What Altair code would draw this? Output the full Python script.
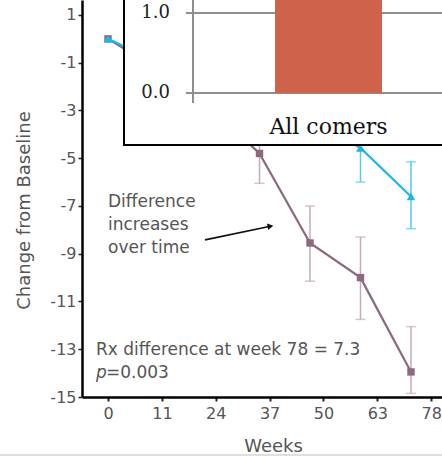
import altair as alt
import pandas as pd

FONT = "DejaVu Sans"
SERIF = "DejaVu Serif"
TEXT_GRAY = "#555555"

# Visit weeks at which both groups were measured
weeks = [0, 12, 24, 36, 48, 60, 72]

# Square-marker group: mean change and error-bar ends
group_a_mean = [0.0, -1.3, -2.8, -4.8, -8.55, -10.0, -13.95]
group_a_low = [None, -2.1, -3.8, -6.05, -10.15, -11.75, -14.85]
group_a_high = [None, -0.5, -1.8, -3.55, -7.0, -8.3, -12.05]

# Triangle-marker group: mean change and error-bar ends
group_b_mean = [0.0, -1.0, -1.8, -2.6, -3.3, -4.57, -6.6]
group_b_low = [None, -1.7, -2.7, -3.6, -4.2, -6.0, -7.95]
group_b_high = [None, -0.3, -0.9, -1.6, -2.4, -3.15, -5.15]

# Axis tick labels (evenly spaced along the week axis)
tick_labels = ["0", "11", "24", "37", "50", "63", "78"]
TICK_STEP = 12.8
y_ticks = [1, -1, -3, -5, -7, -9, -11, -13, -15]

# Inset bar chart
inset_categories = ["All comers"]
inset_values = [1.3]
inset_ticks = [0.0, 1.0]

# Annotation text
note_lines = ["Difference", "increases", "over time"]
note_values = [-6.83, -7.80, -8.76]
result_line = "Rx difference at week 78 = 7.3"

tick_pos = [i * TICK_STEP for i in range(len(tick_labels))]
label_js = "[" + ",".join("'%s'" % t for t in tick_labels) + "]"

x_scale = alt.Scale(domain=[-6.18, 79.37], nice=False, zero=False)
y_scale = alt.Scale(domain=[-15, 1.628], nice=False, zero=False)

x_axis = alt.Axis(
    values=tick_pos,
    labelExpr=label_js + "[round(datum.value / %s)]" % TICK_STEP,
    title="Weeks", grid=False,
    domainColor="black", domainWidth=2.5,
    tickColor="#222222", tickWidth=2, tickSize=4,
    labelColor=TEXT_GRAY, labelFont=FONT, labelFontSize=16, labelPadding=4,
    labelFlush=False,
    titleFont=FONT, titleFontSize=18, titleColor=TEXT_GRAY, titleFontWeight="normal",
    titleX=191, titleY=49, titleBaseline="middle", titleAlign="center",
)
y_axis = alt.Axis(
    values=y_ticks, title="Change from Baseline", grid=False,
    labelExpr="'' + datum.value",
    domainColor="black", domainWidth=2.5,
    tickColor="#222222", tickWidth=1.5, tickSize=4,
    labelColor=TEXT_GRAY, labelFont=FONT, labelFontSize=16, labelPadding=2,
    titleFont=FONT, titleFontSize=18, titleColor=TEXT_GRAY, titleFontWeight="normal",
    titleX=-58, titleY=210, titleBaseline="middle", titleAlign="center", titleAngle=270,
)


def X(field):
    return alt.X(field + ":Q", scale=x_scale, axis=x_axis)


def Y(field):
    return alt.Y(field + ":Q", scale=y_scale, axis=y_axis)


def series_layers(mean, low, high, line_color, err_color, shape, size):
    df = pd.DataFrame({"week": weeks, "mean": mean, "low": low, "high": high})
    err = df.dropna()
    rule = alt.Chart(err).mark_rule(color=err_color, strokeWidth=1.5).encode(
        x=X("week"), y=Y("low"), y2="high")
    cap_lo = alt.Chart(err).mark_tick(color=err_color, thickness=1.5, size=10,
                                      orient="horizontal").encode(x=X("week"), y=Y("low"))
    cap_hi = alt.Chart(err).mark_tick(color=err_color, thickness=1.5, size=10,
                                      orient="horizontal").encode(x=X("week"), y=Y("high"))
    line = alt.Chart(df).mark_line(color=line_color, strokeWidth=2.2).encode(
        x=X("week"), y=Y("mean"))
    pts = alt.Chart(df).mark_point(shape=shape, filled=True, opacity=1,
                                   color=line_color, size=size).encode(
        x=X("week"), y=Y("mean"))
    return [rule, cap_lo, cap_hi, line, pts]


layers_a = series_layers(group_a_mean, group_a_low, group_a_high,
                         "#8a6a80", "#c4abba", "square", 55)
layers_b = series_layers(group_b_mean, group_b_low, group_b_high,
                         "#1cb7e4", "#55ccef", "triangle-up", 75)

# Annotations placed in data units
note_df = pd.DataFrame({"week": [0.0] * len(note_lines), "value": note_values,
                        "text": note_lines})
notes = alt.Chart(note_df).mark_text(align="left", baseline="middle", font=FONT,
                                     fontSize=17, color=TEXT_GRAY).encode(
    x=X("week"), y=Y("value"), text="text:N")

arrow_df = pd.DataFrame({"x0": [23.05], "y0": [-8.42], "x1": [38.6], "y1": [-7.85]})
arrow_line = alt.Chart(arrow_df).mark_rule(color="#111111", strokeWidth=1.6).encode(
    x=X("x0"), y=Y("y0"), x2="x1", y2="y1")
arrow_head = alt.Chart(arrow_df).mark_point(shape="triangle-right", filled=True, opacity=1,
                                            color="#111111", size=45, angle=350).encode(
    x=X("x1"), y=Y("y1"))

result_df = pd.DataFrame({"week": [-2.85], "value": [-13.03], "text": [result_line]})
result = alt.Chart(result_df).mark_text(align="left", baseline="middle", font=FONT,
                                        fontSize=17, color=TEXT_GRAY).encode(
    x=X("week"), y=Y("value"), text="text:N")
p_df = pd.DataFrame({"week": [-2.85], "value": [-14.0]})
p_italic = alt.Chart(p_df).mark_text(align="left", baseline="middle", font=FONT,
                                     fontSize=17, fontStyle="italic", color=TEXT_GRAY,
                                     text="p").encode(x=X("week"), y=Y("value"))
p_rest = alt.Chart(p_df).mark_text(align="left", baseline="middle", font=FONT,
                                   fontSize=17, color=TEXT_GRAY, dx=10,
                                   text="=0.003").encode(x=X("week"), y=Y("value"))

main = alt.layer(*layers_a, *layers_b, notes, arrow_line, arrow_head, result,
                 p_italic, p_rest)

# Inset bar chart with its own scales, mapped into the upper-right corner
inset_x = alt.Scale(domain=inset_categories, range=[111, 382],
                    paddingInner=0.434, paddingOuter=0.434)
inset_y = alt.Scale(domain=[0, 1], range=[93, 13], nice=False, zero=False)

one = pd.DataFrame({"k": [0]})
panel = alt.Chart(one).mark_rect(fill="white", stroke="black", strokeWidth=2).encode(
    x=alt.value(42), x2=alt.value(372), y=alt.value(-10), y2=alt.value(145))
tick_df = pd.DataFrame({"v": inset_ticks})
grid = alt.Chart(tick_df).mark_rule(color="#8f8f8f", strokeWidth=2).encode(
    y=alt.Y("v:Q", scale=inset_y, axis=None), x=alt.value(104), x2=alt.value(372))
inset_axis = alt.Chart(one).mark_rule(color="#8f8f8f", strokeWidth=2).encode(
    x=alt.value(111), y=alt.value(-10), y2=alt.value(103))
bar_df = pd.DataFrame({"cat": inset_categories, "val": inset_values})
bar = alt.Chart(bar_df).mark_bar(color="#cf624a").encode(
    x=alt.X("cat:N", scale=inset_x, axis=None),
    y=alt.Y("val:Q", scale=inset_y, axis=None),
    y2=alt.datum(0))
inset_labels = alt.Chart(tick_df).mark_text(align="right", baseline="middle", font=SERIF,
                                            fontSize=18, color="#222222").encode(
    y=alt.Y("v:Q", scale=inset_y, axis=None), x=alt.value(88),
    text=alt.Text("v:Q", format=".1f"))
cat_label = alt.Chart(bar_df).mark_text(baseline="middle", font=SERIF, fontSize=22,
                                        color="#111111").encode(
    x=alt.X("cat:N", scale=inset_x, axis=None), y=alt.value(127), text="cat:N")
bottom_edge = alt.Chart(one).mark_rule(color="#d4d4d4", strokeWidth=1.5).encode(
    x=alt.value(-82), x2=alt.value(360), y=alt.value(455))

inset = alt.layer(panel, grid, inset_axis, bar, inset_labels, cat_label, bottom_edge)

chart = alt.layer(main, inset).resolve_scale(
    x="independent", y="independent"
).properties(
    width=360, height=397,
    autosize=alt.AutoSizeParams(type="none"),
    padding={"left": 82, "top": 0, "right": 0, "bottom": 59},
    background="white",
).configure_view(stroke=None)

chart.save("out.html", embed_options={"renderer": "svg", "actions": False})
